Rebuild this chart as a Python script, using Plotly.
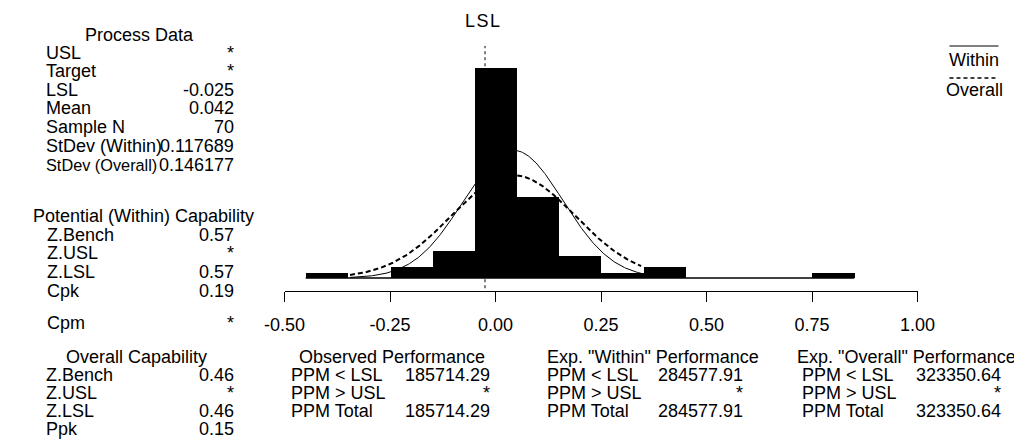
import numpy as np
import plotly.graph_objects as go

# ---------------- data ----------------
bin_centers = [-0.4, -0.3, -0.2, -0.1, 0.0, 0.1, 0.2, 0.3, 0.4, 0.5, 0.6, 0.7, 0.8]
counts = [1, 0, 2, 5, 39, 15, 4, 1, 2, 0, 0, 0, 1]
bin_width = 0.1
mean = 0.042
sd_within = 0.117689
sd_overall = 0.146177
n_sample = 70
lsl = -0.025
curve_span = [-0.345, 0.345]
tick_vals = [-0.50, -0.25, 0.00, 0.25, 0.50, 0.75, 1.00]
tick_text = ["-0.50", "-0.25", "0.00", "0.25", "0.50", "0.75", "1.00"]

process_labels = ["USL", "Target", "LSL", "Mean", "Sample N", "StDev (Within)", "StDev (Overall)"]
process_values = ["*", "*", "-0.025", "0.042", "70", "0.117689", "0.146177"]
within_cap_labels = ["Z.Bench", "Z.USL", "Z.LSL", "Cpk"]
within_cap_values = ["0.57", "*", "0.57", "0.19"]
cpm_label, cpm_value = "Cpm", "*"
overall_cap_labels = ["Z.Bench", "Z.USL", "Z.LSL", "Ppk"]
overall_cap_values = ["0.46", "*", "0.46", "0.15"]
perf_labels = ["PPM < LSL", "PPM > USL", "PPM Total"]
observed_values = ["185714.29", "*", "185714.29"]
exp_within_values = ["284577.91", "*", "284577.91"]
exp_overall_values = ["323350.64", "*", "323350.64"]

# ---------------- layout helpers ----------------
W, H = 1022, 439
FONT = "Liberation Sans, Arial, sans-serif"
FS = 18


def py(p):
    return 1 - p / H


def px(p):
    return p / W


annotations = []


def txt(text, x, y, anchor="left", size=FS):
    annotations.append(dict(text=text, x=px(x), y=py(y), xref="paper", yref="paper",
                            xanchor=anchor, yanchor="middle", showarrow=False, borderpad=0,
                            font=dict(family=FONT, size=size, color="black")))


# ---------------- figure ----------------
fig = go.Figure()

fig.add_trace(go.Bar(x=bin_centers, y=counts, width=bin_width,
                     marker=dict(color="black", line=dict(width=0)), showlegend=False))

# zero-height bin outline
fig.add_trace(go.Scatter(x=[bin_centers[0] - bin_width / 2, bin_centers[-1] + bin_width / 2],
                         y=[0, 0], mode="lines", line=dict(color="black", width=1.5),
                         showlegend=False, hoverinfo="skip"))

xs = np.linspace(curve_span[0], curve_span[1], 300)


def normal_curve(sd):
    return n_sample * bin_width * np.exp(-0.5 * ((xs - mean) / sd) ** 2) / (sd * np.sqrt(2 * np.pi))


fig.add_trace(go.Scatter(x=xs, y=normal_curve(sd_within), mode="lines",
                         line=dict(color="black", width=1), showlegend=False))
fig.add_trace(go.Scatter(x=xs, y=normal_curve(sd_overall), mode="lines",
                         line=dict(color="black", width=2, dash="5px,3px"), showlegend=False))

# LSL reference line
fig.add_shape(type="line", x0=lsl, x1=lsl, y0=-1.9, y1=43.1, xref="x", yref="y",
              line=dict(color="black", width=1, dash="dot"))

# y mapping: count 0 at px 270, axis line at px 283
ppc = 210 / 39.0
y_bottom_px, y_top_px, base_px = 283, 10, 270
y_range = [-(y_bottom_px - base_px) / ppc, (base_px - y_top_px) / ppc]

fig.update_layout(
    width=W, height=H,
    margin=dict(l=0, r=0, t=0, b=0),
    paper_bgcolor="white", plot_bgcolor="white",
    bargap=0,
    xaxis=dict(domain=[265.7 / W, 923.8 / W], range=[-0.5, 1.0],
               showgrid=False, zeroline=False, showline=True, linecolor="black", linewidth=1,
               ticks="outside", ticklen=10, tickwidth=1.2, tickcolor="black",
               tickvals=tick_vals, ticktext=tick_text, ticklabelstandoff=7,
               tickfont=dict(family=FONT, size=FS, color="black")),
    yaxis=dict(domain=[py(y_bottom_px), py(y_top_px)], range=y_range,
               visible=False, showgrid=False, zeroline=False),
)

# LSL label
txt("L\u200aS\u200aL", 472, 13, "center")

# legend
fig.add_shape(type="line", x0=px(957), x1=px(1008), y0=py(38), y1=py(38), xref="paper", yref="paper",
              line=dict(color="black", width=1))
fig.add_shape(type="line", x0=px(957), x1=px(1008), y0=py(70), y1=py(70), xref="paper", yref="paper",
              line=dict(color="black", width=1.5, dash="4px,3px"))
txt("Within", 955, 52)
txt("Overall", 952, 82)

LX, VX = 17, 214

# Process data
txt("Process Data", 115, 27, "center")
rows = [45, 63, 82, 100, 119, 138, 157]
for lab, val, y in zip(process_labels, process_values, rows):
    # the last label is squeezed slightly so it just meets its value, as in the original
    txt(lab, LX, y, size=16.3 if lab == "StDev (Overall)" else FS)
    txt(val, VX, y, "right")

# Potential capability
txt("Potential (Within) Capability", 3, 208)
rows = [227, 245, 264, 283]
for lab, val, y in zip(within_cap_labels, within_cap_values, rows):
    txt(lab, LX + 1, y)
    txt(val, VX, y, "right")
txt(cpm_label, LX + 1, 315)
txt(cpm_value, VX, 315, "right")

# Overall capability
txt("Overall Capability", 112, 349, "center")
rows = [367, 385, 403, 421]
for lab, val, y in zip(overall_cap_labels, overall_cap_values, rows):
    txt(lab, LX, y)
    txt(val, VX, y, "right")

# Performance blocks
txt("Observed Performance", 377, 349, "center")
txt('Exp. "Within" Performance', 537, 349)
txt('Exp. "Overall" Performance', 797, 349)
rows = [367, 385, 403]
for lab, v1, v2, v3, y in zip(perf_labels, observed_values, exp_within_values, exp_overall_values, rows):
    txt(lab, 271, y)
    txt(v1, 480, y, "right")
    txt(lab, 537, y)
    txt(v2, 743, y, "right")
    txt(lab, 803, y)
    txt(v3, 1012, y, "right")

fig.update_layout(annotations=annotations)

fig.write_html("out.html")
